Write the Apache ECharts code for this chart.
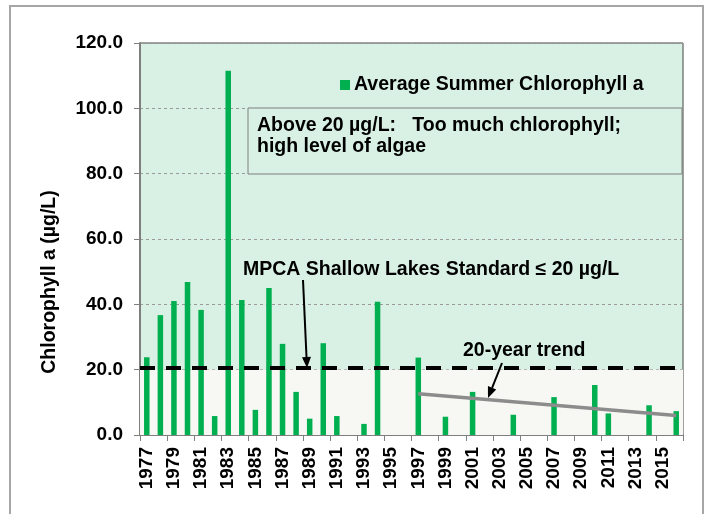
<!DOCTYPE html>
<html>
<head>
<meta charset="utf-8">
<script src="https://cdn.jsdelivr.net/npm/echarts@6/dist/echarts.min.js"></script>
<style>
  html, body { margin: 0; padding: 0; background: #fff; }
  #chart { width: 707px; height: 514px; }
</style>
</head>
<body>
<div id="chart"></div>
<script>
const years = ['1977', '1978', '1979', '1980', '1981', '1982', '1983', '1984', '1985', '1986',
  '1987', '1988', '1989', '1990', '1991', '1992', '1993', '1994', '1995', '1996',
  '1997', '1998', '1999', '2000', '2001', '2002', '2003', '2004', '2005', '2006',
  '2007', '2008', '2009', '2010', '2011', '2012', '2013', '2014', '2015', '2016']
const chlorophyll = [23.8, 36.7, 41.0, 46.8, 38.3, 5.8, 111.5, 41.3, 7.7, 45.0,
  27.9, 13.2, 5.0, 28.1, 5.8, null, 3.4, 40.8, null, null,
  23.7, null, 5.6, null, 13.2, null, null, 6.2, null, null,
  11.6, null, null, 15.3, 6.6, null, null, 9.1, null, 7.3]
const trendYears = ['1997', '2016']
const trendValues = [12.6, 6.0]
const standardLine = 20.6
const yTicks = [0, 20, 40, 60, 80, 100, 120]

const FONT = '"Liberation Sans", Arial, sans-serif'
const myChart = echarts.init(document.getElementById('chart'))

// little helper for the annotation arrows
function arrow(x1, y1, x2, y2) {
  const ang = Math.atan2(y2 - y1, x2 - x1)
  const len = 11
  const half = 4.5
  const bx = x2 - len * Math.cos(ang)
  const by = y2 - len * Math.sin(ang)
  const px = -Math.sin(ang) * half
  const py = Math.cos(ang) * half
  return [
    { type: 'line', z: 20, shape: { x1: x1, y1: y1, x2: bx, y2: by }, style: { stroke: '#000', lineWidth: 2 } },
    { type: 'polygon', z: 20, shape: { points: [[x2, y2], [bx + px, by + py], [bx - px, by - py]] }, style: { fill: '#000' } }
  ]
}

const option = {
  backgroundColor: '#fff',
  animation: false,
  textStyle: { fontFamily: FONT },
  grid: {
    left: 140,
    right: 24,
    top: 43,
    bottom: 79,
    show: true,
    backgroundColor: '#d8f1e4',
    borderColor: '#444',
    borderWidth: 1
  },
  legend: {
    data: ['Average Summer Chlorophyll a'],
    left: 340,
    top: 75,
    padding: 0,
    icon: 'rect',
    itemWidth: 10,
    itemHeight: 10,
    itemGap: 4,
    textStyle: { fontFamily: FONT, fontWeight: 'bold', fontSize: 19.5, color: '#000', padding: [0, 0, 0, -1] }
  },
  xAxis: {
    type: 'category',
    data: years,
    axisLine: { show: true, lineStyle: { color: '#7f7f7f', width: 2 } },
    axisTick: { show: true, interval: 1, length: 6, lineStyle: { color: '#7f7f7f', width: 1 } },
    axisLabel: {
      interval: 1,
      rotate: 90,
      margin: 12,
      color: '#000',
      fontFamily: FONT,
      fontWeight: 'bold',
      fontSize: 19
    },
    splitLine: { show: false }
  },
  yAxis: {
    type: 'value',
    min: yTicks[0],
    max: yTicks[yTicks.length - 1],
    interval: 20,
    name: 'Chlorophyll a (µg/L)',
    nameLocation: 'middle',
    nameGap: 80,
    nameTextStyle: { fontFamily: FONT, fontWeight: 'bold', fontSize: 19.5, color: '#000', padding: [0, 86, 0, 0] },
    axisLine: { show: true, lineStyle: { color: '#7f7f7f', width: 2 } },
    axisTick: { show: true, length: 6, lineStyle: { color: '#7f7f7f' } },
    axisLabel: {
      margin: 17,
      color: '#000',
      fontFamily: FONT,
      fontWeight: 'bold',
      fontSize: 19,
      formatter: (v) => v.toFixed(1)
    },
    splitLine: { show: true, lineStyle: { color: '#9a9a9a', type: [3, 3], width: 1 } }
  },
  series: [
    {
      // pale band under 20 ug/L
      name: 'lowBand',
      type: 'line',
      data: [],
      z: 1,
      silent: true,
      markArea: {
        silent: true,
        itemStyle: { color: '#f5f6ef' },
        data: [[{ yAxis: 0 }, { yAxis: 20 }]]
      }
    },
    {
      name: 'Average Summer Chlorophyll a',
      type: 'bar',
      data: chlorophyll,
      barWidth: 5.5,
      z: 2,
      itemStyle: { color: '#00b050' }
    },
    {
      // whitish veil drawn over the bars below the standard
      name: 'veil',
      type: 'line',
      data: [],
      z: 3,
      silent: true,
      markArea: {
        silent: true,
        itemStyle: { color: 'rgba(255,255,255,0.25)' },
        data: [[{ yAxis: 0 }, { yAxis: 20 }]]
      }
    },
    {
      name: 'standard',
      type: 'line',
      data: [],
      z: 4,
      silent: true,
      markLine: {
        silent: true,
        symbol: ['none', 'none'],
        label: { show: false },
        lineStyle: { color: '#000', width: 4, type: [15, 11] },
        data: [{ yAxis: standardLine }]
      }
    },
    {
      name: '20-year trend',
      type: 'line',
      z: 5,
      data: trendYears.map((y, i) => [y, trendValues[i]]),
      symbol: 'none',
      lineStyle: { color: '#8c8c8c', width: 3.5 }
    }
  ],
  graphic: [
    {
      type: 'rect',
      z: 0,
      silent: true,
      shape: { x: 10, y: 6, width: 693, height: 520 },
      style: { fill: 'none', stroke: '#a6a6a6', lineWidth: 2 }
    },
    {
      type: 'rect',
      z: 10,
      shape: { x: 248, y: 108, width: 434, height: 66 },
      style: { fill: '#d8f1e4', stroke: '#7f7f7f', lineWidth: 1 }
    },
    {
      type: 'text',
      z: 11,
      left: 257,
      top: 115,
      style: {
        text: 'Above 20 µg/L:   Too much chlorophyll;\nhigh level of algae',
        font: 'bold 19.5px ' + FONT,
        lineHeight: 21,
        fill: '#000'
      }
    },
    {
      type: 'text',
      z: 11,
      left: 243,
      top: 260,
      style: { text: 'MPCA Shallow Lakes Standard ≤ 20 µg/L', font: 'bold 19.5px ' + FONT, fill: '#000' }
    },
    {
      type: 'text',
      z: 11,
      left: 463,
      top: 341,
      style: { text: '20-year trend', font: 'bold 19.5px ' + FONT, fill: '#000' }
    },
    ...arrow(303, 280, 307, 368),
    ...arrow(502, 363, 488, 398)
  ]
}

myChart.setOption(option)
</script>
</body>
</html>
